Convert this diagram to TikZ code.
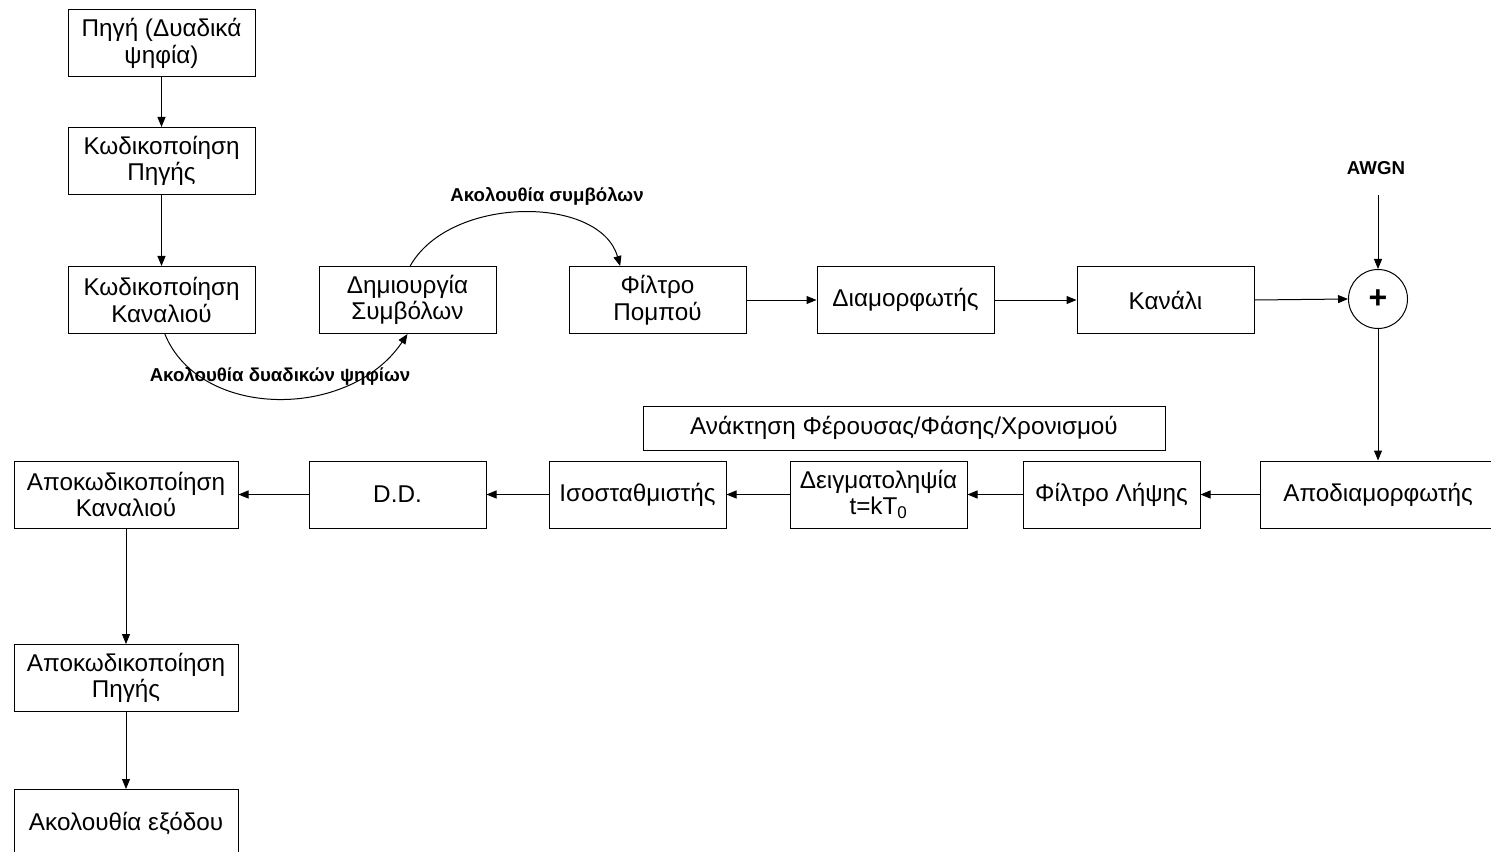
\documentclass[tikz,border=0pt]{standalone}
\usepackage{fontspec}
\setmainfont{Liberation Sans}
\usetikzlibrary{arrows.meta}

\tikzset{every picture/.style={line width=0.75pt}}
\tikzset{
  blk/.style={draw, rectangle, inner sep=0pt, align=center, font=\fontsize{18.2}{20}\selectfont,
    minimum width=132.75pt, minimum height=50.25pt},
  wideblk/.style={blk, minimum width=168pt},
  lbl/.style={inner sep=0.75pt, font=\fontsize{14}{16}\selectfont\bfseries},
  flow/.style={-{Triangle[length=7.5pt,width=6pt]}}
}

\begin{document}
\begin{tikzpicture}[x=0.75pt,y=0.75pt,yscale=-1,xscale=1]
\useasboundingbox (0,0) rectangle (1491,852);

%Transmitter column
\node [blk, minimum width=140.25pt] (src) at (161.5,43.5) {Πηγή (Δυαδικά\\ψηφία)};
\node [blk, minimum width=140.25pt] (srccod) at (161.5,161) {Κωδικοποίηση\\Πηγής};
\node [blk, minimum width=140.25pt] (chcod) at (161.5,300) {Κωδικοποίηση\\Καναλιού};

%Transmitter row
\node [blk] (symb) at (407.5,300) {Δημιουργία\\Συμβόλων};
\node [blk] (txf) at (657.5,300) {Φίλτρο\\Πομπού};
\node [blk] (mod) at (905.5,300) {Διαμορφωτής};
\node [blk] (chan) at (1165.5,300) {Κανάλι};

%Adder and noise
\node [draw, circle, inner sep=0pt, minimum size=44.25pt, font=\fontsize{24}{24}\selectfont\bfseries] (sum) at (1378,299) {+};
\node [lbl] (awgn) at (1376,168) {AWGN};
\coordinate (noise) at (1378,195);

%Receiver row
\node [blk, minimum width=177pt] (demod) at (1378,494.5) {Αποδιαμορφωτής};
\node [blk] (rxf) at (1111.5,494.5) {Φίλτρο Λήψης};
\node [blk] (samp) at (878.5,494.5) {Δειγματοληψία\\t=kT\textsubscript{0}};
\node [blk, minimum width=391.5pt, minimum height=33pt] (sync) at (904,428) {Ανάκτηση Φέρουσας/Φάσης/Χρονισμού};
\node [blk] (eq) at (637.5,494.5) {Ισοσταθμιστής};
\node [blk] (dd) at (397.5,494.5) {D.D.};
\node [wideblk] (chdec) at (126,494.5) {Αποκωδικοποίηση\\Καναλιού};

%Receiver column
\node [wideblk] (srcdec) at (126,678) {Αποκωδικοποίηση\\Πηγής};
\node [wideblk] (out) at (126,823) {Ακολουθία εξόδου};

%Straight Lines
\draw [flow] (src) -- (srccod);
\draw [flow] (srccod) -- (chcod);
\draw [flow] (txf) -- (mod);
\draw [flow] (mod) -- (chan);
\draw [flow] (chan.east) -- (sum.west);
\draw [flow] (noise) -- (sum.north);
\draw [flow] (sum.south) -- (demod.north);
\draw [flow] (demod) -- (rxf);
\draw [flow] (rxf) -- (samp);
\draw [flow] (samp) -- (eq);
\draw [flow] (eq) -- (dd);
\draw [flow] (dd) -- (chdec);
\draw [flow] (chdec) -- (srcdec);
\draw [flow] (srcdec) -- (out);

%Curve Lines
\draw [flow] ([xshift=2.5pt]chcod.south) .. controls (200,420) and (350,420) .. (symb.south);
\draw [flow] ([xshift=2pt]symb.north) .. controls (450,195) and (600,195) .. ([xshift=-28pt]txf.north);

% Text Node
\node [lbl] (bitseq) at (280,376) {Ακολουθία δυαδικών ψηφίων};
% Text Node
\node [lbl] (symseq) at (547,196) {Ακολουθία συμβόλων};

\end{tikzpicture}
\end{document}
